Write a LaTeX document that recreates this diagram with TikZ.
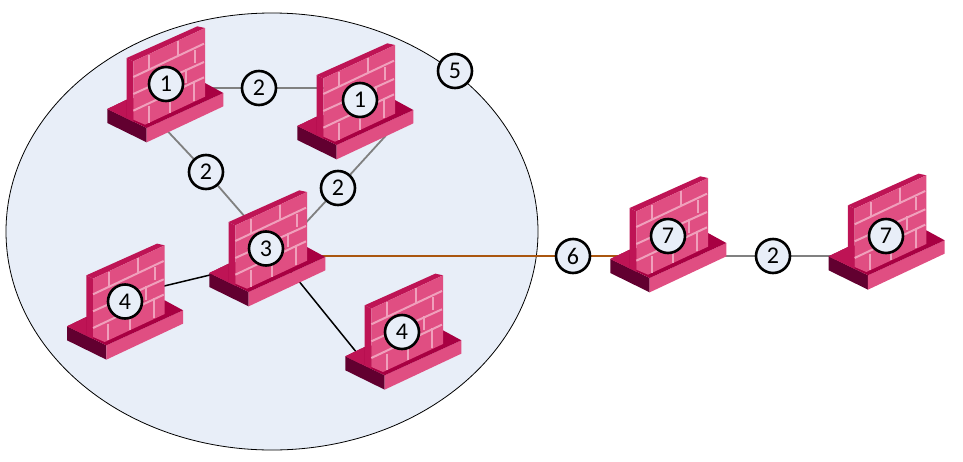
\documentclass[tikz,border=0pt]{standalone}
\usepackage{fontspec}
\setmainfont{Carlito}
\usetikzlibrary{shapes.geometric, positioning, calc, backgrounds}
\definecolor{cZone}{RGB}{232,238,248}
\definecolor{cFace}{RGB}{224,78,130}
\definecolor{cSide}{RGB}{190,20,85}
\definecolor{cTop}{RGB}{168,0,66}
\definecolor{cDark}{RGB}{98,0,48}
\definecolor{cBrick}{RGB}{240,160,188}
\definecolor{cLink}{RGB}{128,128,128}
\definecolor{cWan}{RGB}{170,86,15}
\tikzset{
    badge/.style={circle, draw=black, line width=2.6pt, fill=cZone, minimum size=34pt, inner sep=0pt, font=\fontsize{24}{26}\selectfont},
    lanlink/.style={draw=cLink, line width=1.8pt},
    corelink/.style={draw=black, line width=1.5pt},
    wanlink/.style={draw=cWan, line width=1.8pt},
    mortar/.style={draw=cBrick, line width=2pt},
    firewall/.pic={
        \begin{scope}[xscale=1/3, yscale=1/3, shift={(-228,-218)}]
            \fill[cDark] (52,293)--(170,350)--(170,393)--(52,335)--cycle;
            \fill[cFace] (170,350)--(400,245)--(400,285)--(170,393)--cycle;
            \fill[cTop] (52,293)--(110,265)--(345,215)--(400,245)--(170,350)--cycle;
            \fill[cSide] (52,293)--(110,265)--(110,321)--cycle;
            \fill[cSide] (110,140)--(130,150)--(130,331)--(110,321)--cycle;
            \fill[cSide] (110,140)--(322,45)--(345,50)--(130,150)--cycle;
            \fill[cFace] (130,150)--(345,50)--(345,256)--(165,340)--(130,325)--cycle;
            \draw[mortar] (130,197)--(342,97);
            \draw[mortar] (130,248)--(342,152);
            \draw[mortar] (130,298)--(342,198);
            \draw[mortar] (178,130)--(178,174);
            \draw[mortar] (265,88)--(265,135);
            \draw[mortar] (315,115)--(315,155);
            \draw[mortar] (288,172)--(288,215);
            \draw[mortar] (313,208)--(313,268);
            \draw[mortar] (176,285)--(176,335);
            \draw[mortar] (240,258)--(240,305);
        \end{scope}
    },
}
\begin{document}
\begin{tikzpicture}[x=1pt, y=-1pt]
    \useasboundingbox (0,0) rectangle (963,461);
    \pic at (166,84) {firewall};
    \pic at (356,101) {firewall};
    \pic at (268,248) {firewall};
    \pic at (125.7,301.3) {firewall};
    \pic at (404,331.3) {firewall};
    \pic at (669,234) {firewall};
    \pic at (887.3,231.3) {firewall};
    \node[badge] (fwa) at (166,84) {1};
    \node[badge] (fwb) at (360,100) {1};
    \node[badge] (fwc) at (266,248.5) {3};
    \node[badge] (fwd) at (125,301.5) {4};
    \node[badge] (fwe) at (402,332) {4};
    \node[badge] (fwf) at (668,236) {7};
    \node[badge] (fwg) at (886,236) {7};
    \node[badge] (zonetag) at (455,71) {5};
    \node[badge] (linkab) at (259,88) {2};
    \node[badge] (linkac) at (206,172) {2};
    \node[badge] (linkbc) at (338,188) {2};
    \node[badge] (linkwan) at (573,256) {6};
    \node[badge] (linkfg) at (773,256) {2};
    \coordinate (acin) at (150,112.4);
    \coordinate (acout) at (255,228.4);
    \coordinate (bcin) at (390,131);
    \coordinate (bcout) at (300,229);
    \coordinate (cdin) at (150,289.4);
    \coordinate (cdout) at (225,271.4);
    \coordinate (ceout) at (285,264);
    \coordinate (cein) at (370,369);
    \begin{scope}[on background layer]
        \node[ellipse, draw=black, line width=0.8pt, fill=cZone, minimum width=532pt, minimum height=437pt, inner sep=0pt] (zone) at (272,231.5) {};
        \draw[lanlink] (fwa |- linkab)--(linkab)--(linkab -| fwb);
        \draw[lanlink] (acin)--(linkac)--(acout);
        \draw[lanlink] (bcin)--(linkbc)--(bcout);
        \draw[corelink] (cdin)--(cdout);
        \draw[corelink] (ceout)--(cein);
        \draw[wanlink] (fwc |- linkwan)--(linkwan)--(linkwan -| fwf);
        \draw[lanlink] (fwf |- linkfg)--(linkfg)--(linkfg -| fwg);
    \end{scope}
\end{tikzpicture}
\end{document}
